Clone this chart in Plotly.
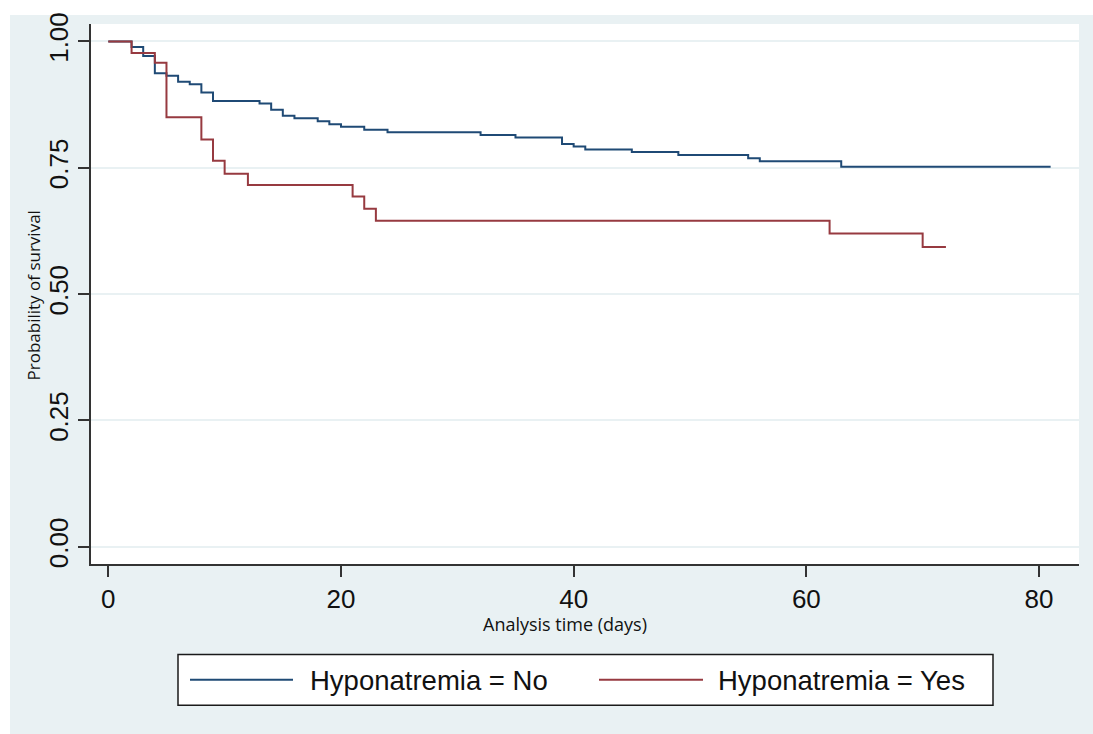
import plotly.graph_objects as go

# ---- data (Kaplan-Meier step curves) ----
no_time = [0, 2, 3, 4, 5, 6, 7, 8, 9, 13, 14, 15, 16, 18, 19, 20, 22, 24,
           32, 35, 39, 40, 41, 45, 49, 55, 56, 63, 81]
no_surv = [1.000, 0.989, 0.971, 0.937, 0.932, 0.920, 0.915, 0.899, 0.882,
           0.877, 0.865, 0.853, 0.848, 0.842, 0.836, 0.831, 0.825, 0.820,
           0.815, 0.810, 0.797, 0.792, 0.786, 0.781, 0.775, 0.769, 0.763,
           0.752, 0.752]

yes_time = [0, 2, 4, 5, 8, 9, 10, 12, 21, 22, 23, 62, 70, 72]
yes_surv = [1.000, 0.977, 0.958, 0.850, 0.806, 0.764, 0.738, 0.716, 0.693,
            0.669, 0.645, 0.620, 0.593, 0.593]

series_names = ["Hyponatremia = No", "Hyponatremia = Yes"]
x_ticks = [0, 20, 40, 60, 80]
y_ticks = [0.0, 0.25, 0.5, 0.75, 1.0]
y_tick_labels = ["0.00", "0.25", "0.50", "0.75", "1.00"]
x_title = "Analysis time (days)"
y_title = "Probability of survival"

# ---- styling ----
W, H = 1093, 734
L, R, T, B = 91, 1079, 21, 564          # plot area (page px)
BG = "#E9F1F3"
BLUE = "#1F4A75"
RED = "#973A40"
FONT = "Liberation Sans, Arial, sans-serif"
TITLE_FONT = "Open Sans, DejaVu Sans Condensed, sans-serif"

pw, ph = R - L, B - T


def px(x):
    """page x pixel -> paper coordinate"""
    return (x - L) / pw


def py(y):
    """page y pixel -> paper coordinate"""
    return (B - y) / ph


fig = go.Figure()
fig.add_trace(go.Scatter(x=no_time, y=no_surv, mode="lines", line_shape="hv",
                         line=dict(color=BLUE, width=2), name=series_names[0],
                         showlegend=False))
fig.add_trace(go.Scatter(x=yes_time, y=yes_surv, mode="lines", line_shape="hv",
                         line=dict(color=RED, width=2), name=series_names[1],
                         showlegend=False))

shapes = [
    # white strips outside the grey graph region (top and left)
    dict(type="rect", xref="paper", yref="paper", x0=px(-5), x1=px(W + 5), y0=py(12), y1=py(-5),
         fillcolor="white", line=dict(width=0), layer="below"),
    dict(type="rect", xref="paper", yref="paper", x0=px(-5), x1=px(10), y0=py(H + 5), y1=py(-5),
         fillcolor="white", line=dict(width=0), layer="below"),
    # legend box
    dict(type="rect", xref="paper", yref="paper", x0=px(178), x1=px(993), y0=py(706), y1=py(655),
         fillcolor="white", line=dict(color="#1a1a1a", width=1.5)),
    dict(type="line", xref="paper", yref="paper", x0=px(190), x1=px(293), y0=py(680.5), y1=py(680.5),
         line=dict(color=BLUE, width=2)),
    dict(type="line", xref="paper", yref="paper", x0=px(599), x1=px(703), y0=py(680.5), y1=py(680.5),
         line=dict(color=RED, width=2)),
]

annotations = [
    dict(text=series_names[0], xref="paper", yref="paper", x=px(308), y=py(681),
         xanchor="left", yanchor="middle", showarrow=False,
         font=dict(family=FONT, size=27.5, color="#111111")),
    dict(text=series_names[1], xref="paper", yref="paper", x=px(716), y=py(681),
         xanchor="left", yanchor="middle", showarrow=False,
         font=dict(family=FONT, size=27.5, color="#111111")),
    dict(text=x_title, xref="paper", yref="paper", x=px(565), y=py(624),
         xanchor="center", yanchor="middle", showarrow=False,
         font=dict(family=TITLE_FONT, size=18, color="#111111")),
    dict(text=y_title, xref="paper", yref="paper", x=px(33), y=py(294),
         xanchor="center", yanchor="middle", showarrow=False, textangle=-90,
         font=dict(family=TITLE_FONT, size=17, color="#111111")),
]

# axis ranges from page-pixel positions: 0 -> x=108.3, 80 -> x=1039 ; 1.0 -> y=38.5, 0 -> y=546.7
xs = (1039 - 108.3) / 80.0
x0 = -(108.3 - L) / xs
x1 = 80 + (R - 1039) / xs
ys = (546.7 - 38.5)
y0 = -(B - 546.7) / ys
y1 = 1 + (38.5 - T) / ys

fig.update_layout(
    width=W, height=H,
    margin=dict(l=L, r=W - R, t=T, b=H - B, pad=0),
    paper_bgcolor=BG, plot_bgcolor="white",
    shapes=shapes, annotations=annotations,
    showlegend=False,
    font=dict(family=FONT, size=26, color="#111111"),
    xaxis=dict(range=[x0, x1], tickvals=x_ticks, ticks="outside", ticklen=11,
               tickwidth=1.5, tickcolor="#333333", showline=True, linecolor="#333333",
               linewidth=1.5, showgrid=False, zeroline=False,
               tickfont=dict(family=FONT, size=26, color="#111111"),
               ticklabelstandoff=0),
    yaxis=dict(range=[y0, y1], tickvals=y_ticks, ticktext=y_tick_labels,
               ticks="outside", ticklen=11, tickwidth=1.5, tickcolor="#333333",
               showline=True, linecolor="#333333", linewidth=1.5,
               showgrid=True, gridcolor=BG, gridwidth=2, zeroline=False,
               tickangle=-90,
               tickfont=dict(family=FONT, size=26, color="#111111"),
               ticklabelstandoff=0),
)

fig.write_html(
    "out.html",
    config={"displayModeBar": False},
    post_script="document.body.style.margin='0';document.body.style.overflow='hidden';",
)
